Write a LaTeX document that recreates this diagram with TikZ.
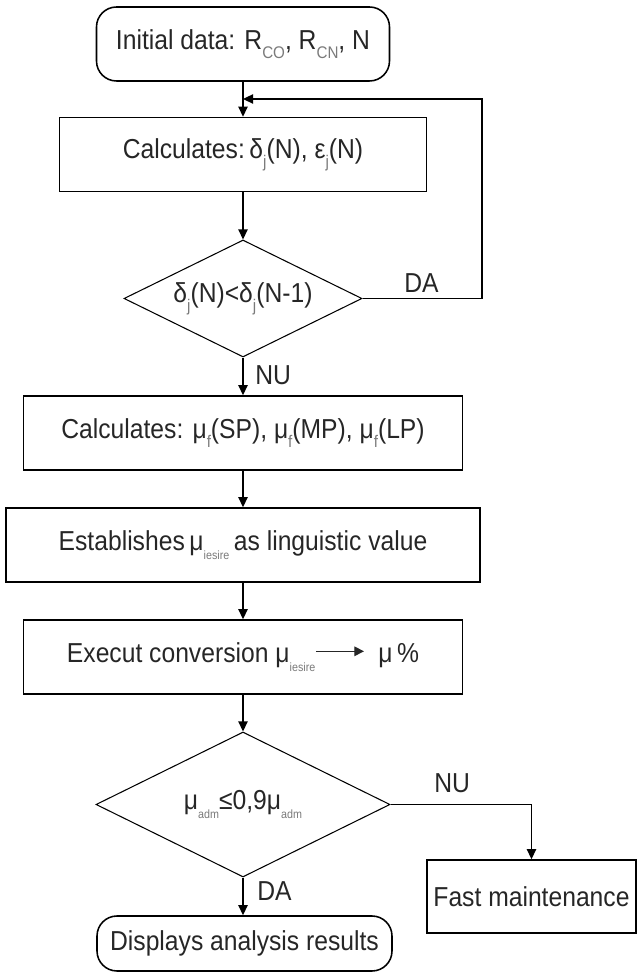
\documentclass[tikz,border=0pt]{standalone}
\usepackage{fontspec}
\usepackage{xcolor}
\usepackage{tikz}
\setmainfont{Liberation Sans}[FakeStretch=0.9]
\usetikzlibrary{shapes.geometric, positioning, arrows.meta}

\definecolor{inkgrey}{HTML}{262626}
\definecolor{subgrey}{HTML}{7a7a7a}

% lowered subscripts, as in the flow sheet
\newcommand{\lowsub}[1]{\raisebox{-0.6ex}{\fontsize{12}{12}\selectfont\color{subgrey}#1}}
\newcommand{\tinysub}[1]{\raisebox{-0.65ex}{\fontsize{8.5}{8.5}\selectfont\color{subgrey}#1}}
\newcommand{\convarrow}{\tikz[baseline=-0.75ex]\draw[line width=0.9pt, -{Triangle[length=2.4mm,width=2.4mm]}] (0,0) -- (1.2,0);}

\tikzset{
    block/.style={draw, rectangle, line width=1.1pt, minimum height=1.85cm, inner sep=0pt},
    terminal/.style={draw, rectangle, rounded corners=0.5cm, line width=1.1pt, inner sep=0pt},
    test/.style={draw, diamond, aspect=2.03, line width=0.75pt, inner sep=0pt},
    flow/.style={line width=1.1pt, -{Triangle[length=2.5mm,width=2.3mm]}},
    answer/.style={inner sep=0pt, anchor=west}
}

\begin{document}
\begin{tikzpicture}[font=\fontsize{19.5}{22}\selectfont, text=inkgrey]

    \useasboundingbox (0,0) rectangle (15.925,24.325);

    % Start terminal with the input data
    \node[terminal, minimum width=7.325cm, minimum height=1.85cm] (init) at (6.075,23.225)
        {Initial data: R\lowsub{CO}, R\lowsub{CN}, N};

    % Deviation and error computation
    \node[block, minimum width=9.175cm] (calcdev) at (6.075,20.4625)
        {Calculates:\,δ\lowsub{j}(N), ε\lowsub{j}(N)};

    % Convergence test
    \node[test, minimum width=5.95cm, minimum height=2.925cm] (convtest) at (6.075,16.8625)
        {δ\lowsub{j}(N)<δ\lowsub{j}(N-1)};

    % Membership degrees
    \node[block, minimum width=10.975cm] (calcmu) at (6.075,13.5)
        {Calculates: μ\lowsub{f}(SP), μ\lowsub{f}(MP), μ\lowsub{f}(LP)};

    % Linguistic output value
    \node[block, minimum width=11.85cm] (establish) at (6.075,10.7)
        {Establishes\,μ\tinysub{iesire}\,as linguistic value};

    % Conversion to percentage
    \node[block, minimum width=10.975cm] (convert) at (6.075,7.9)
        {Execut conversion μ\tinysub{iesire}\convarrow\ \ μ\,\%};

    % Admissible wear test
    \node[test, minimum width=7.35cm, minimum height=3.625cm] (admtest) at (6.075,4.2125)
        {μ\tinysub{adm}≤0,9μ\tinysub{adm}};

    % Exit branches
    \node[block, minimum width=5.225cm, minimum height=1.825cm] (fast) at (13.2875,1.9125)
        {Fast maintenance};
    \node[terminal, minimum width=7.375cm, minimum height=1.375cm] (results) at (6.1125,0.7375)
        {Displays analysis results};

    % Main flow
    \draw[flow] (init) -- (calcdev);
    \draw[flow] (calcdev) -- (convtest);
    \draw[flow] (convtest) -- (calcmu);
    \draw[flow] (calcmu) -- (establish);
    \draw[flow] (establish) -- (convert);
    \draw[flow] (convert) -- (admtest);
    \draw[flow] (admtest.south) -- (admtest.south |- results.north);

    % Loop back while the deviation decreases
    \coordinate (loop) at (12.05,21.85);
    \draw[flow] (convtest.east) -| (loop) -- (loop -| calcdev.north);

    % Fast maintenance branch
    \draw[flow] (admtest.east) -| (fast.north);

    % Branch labels
    \node[answer] (da1) at (10.1,17.25) {DA};
    \node[answer] (nu1) at (6.375,14.95) {NU};
    \node[answer] (nu2) at (10.85,4.75) {NU};
    \node[answer] (da2) at (6.425,2.05) {DA};

\end{tikzpicture}
\end{document}
